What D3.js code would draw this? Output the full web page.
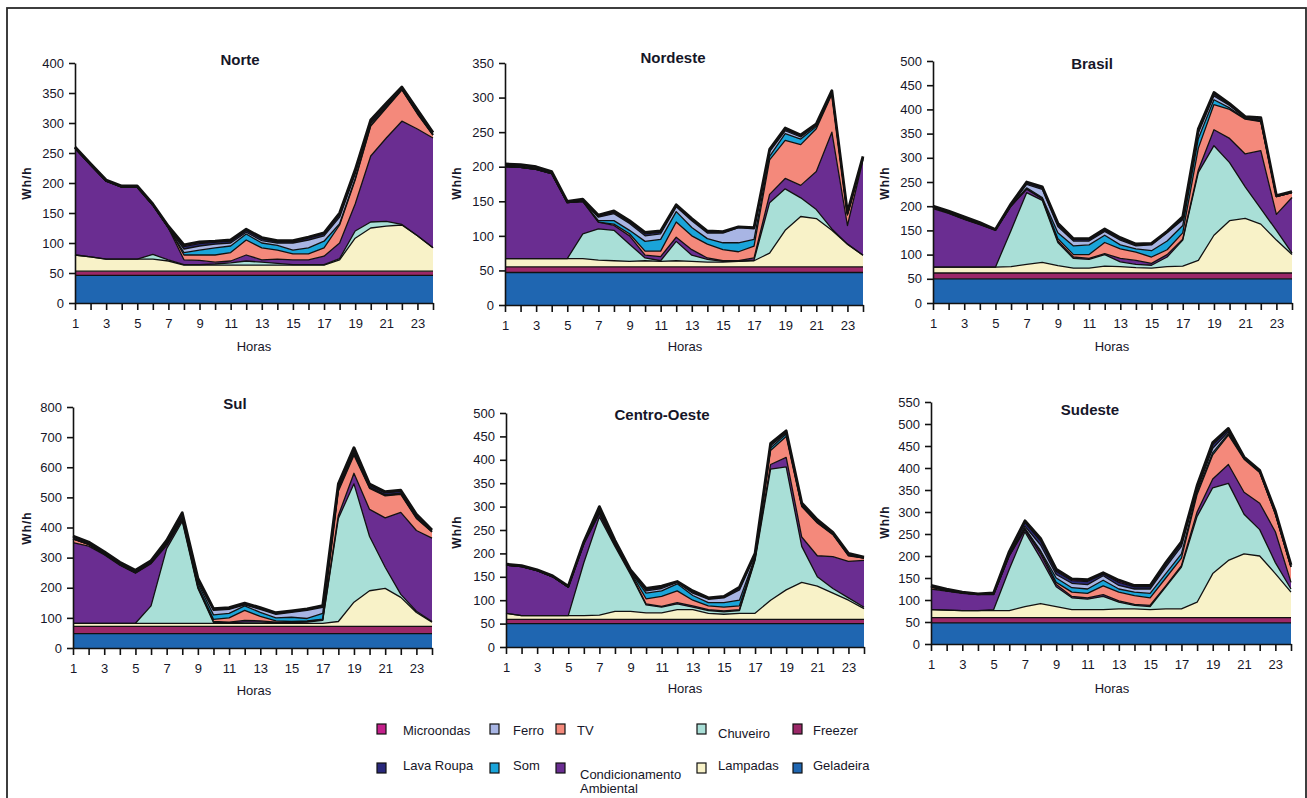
<!DOCTYPE html>
<html>
<head>
<meta charset="utf-8">
<script src="https://cdn.jsdelivr.net/npm/d3@7"></script>
<style>
  body { margin: 0; background: #fff; }
  svg { display: block; font-family: "Liberation Sans", Arial, sans-serif; }
</style>
</head>
<body>
<svg id="chart" width="1307" height="798"></svg>
<script>
// Hourly load curves (Wh/h) per appliance, stacked, for each region of Brazil.
const horas = [1,2,3,4,5,6,7,8,9,10,11,12,13,14,15,16,17,18,19,20,21,22,23,24];

// Stack order, bottom to top
const aparelhos = ["geladeira","freezer","lampadas","chuveiro","condicionamento","tv","som","ferro","lavaRoupa","microondas"];

const norte = {
  geladeira:       [46,46,46,46,46,46,46,46,46,46,46,46,46,46,46,46,46,46,46,46,46,46,46,46],
  freezer:         [7,7,7,7,7,7,7,7,7,7,7,7,7,7,7,7,7,7,7,7,7,7,7,7],
  lampadas:        [27,24,20,20,20,20,17,10,10,10,10,10,10,10,10,10,10,19,55,72,75,77,59,39],
  chuveiro:        [0,0,0,0,0,8,2,1,1,2,4,7,5,3,1,1,1,2,12,10,8,1,0,0],
  condicionamento: [178,153,130,120,120,82,53,8,7,3,3,10,4,7,8,8,14,26,45,110,139,172,178,183],
  tv:              [0,0,0,0,0,0,0,8,9,12,14,25,20,15,10,10,14,30,40,50,50,52,25,5],
  som:             [0,0,0,0,0,0,0,4,8,12,11,10,8,8,6,10,11,2,2,1,1,1,1,0],
  ferro:           [0,0,0,0,0,0,0,6,7,6,5,3,4,4,12,13,9,11,8,3,2,0,1,0],
  lavaRoupa:       [1,1,1,1,1,1,2,4,4,3,3,3,3,2,2,3,3,4,4,3,3,2,3,2],
  microondas:      [1,1,1,1,1,1,1,3,3,2,2,2,2,2,2,2,2,3,3,3,2,2,2,2]
};

const nordeste = {
  geladeira:       [47,47,47,47,47,47,47,47,47,47,47,47,47,47,47,47,47,47,47,47,47,47,47,47],
  freezer:         [8,8,8,8,8,8,8,8,8,8,8,8,8,8,8,8,8,8,8,8,8,8,8,8],
  lampadas:        [12,12,12,12,12,12,10,9,8,9,8,9,8,7,7,8,9,20,53,73,70,53,33,17],
  chuveiro:        [0,0,0,0,0,36,45,44,25,4,1,28,9,4,1,0,1,73,60,27,13,2,0,0],
  condicionamento: [133,132,129,123,81,47,10,7,12,4,6,6,8,2,1,1,3,12,15,18,55,140,27,138],
  tv:              [0,0,0,0,0,0,0,2,3,6,8,22,20,20,16,13,17,50,55,59,62,55,15,2],
  som:             [0,0,0,0,0,0,2,5,5,14,17,15,12,8,10,13,10,5,10,8,3,1,1,1],
  ferro:           [0,0,0,0,0,0,5,10,10,8,8,7,10,8,14,22,15,7,4,3,2,2,1,0],
  lavaRoupa:       [2,2,2,2,1,2,2,2,2,3,2,2,2,2,1,1,1,2,2,2,1,1,1,1],
  microondas:      [2,2,2,1,1,1,1,2,2,2,2,1,1,1,1,0,1,1,2,1,1,1,1,1]
};

const brasil = {
  geladeira:       [50,50,50,50,50,50,50,50,50,50,50,50,50,50,50,50,50,50,50,50,50,50,50,50],
  freezer:         [12,12,12,12,12,12,12,12,12,12,12,12,12,12,12,12,12,12,12,12,12,12,12,12],
  lampadas:        [12,12,12,12,12,13,18,22,15,10,10,14,13,11,10,13,14,26,78,108,113,101,68,38],
  chuveiro:        [0,0,0,0,0,75,148,128,48,20,18,24,10,7,6,20,54,182,185,120,65,32,20,3],
  condicionamento: [121,111,99,88,76,50,7,3,3,3,2,2,7,8,4,5,2,5,33,50,68,120,33,115],
  tv:              [3,1,1,1,1,1,1,1,5,5,8,23,20,17,13,10,13,45,52,60,72,60,37,10],
  som:             [0,0,0,0,0,0,2,2,12,18,20,15,8,7,13,18,15,20,10,3,1,1,0,0],
  ferro:           [0,0,0,0,0,1,7,17,13,10,8,8,10,6,12,17,12,12,8,5,1,2,0,0],
  lavaRoupa:       [1,2,2,2,1,2,3,3,4,3,3,3,3,2,2,2,3,4,4,2,2,3,1,1],
  microondas:      [1,2,2,1,0,1,2,2,3,2,2,2,2,2,1,1,3,4,3,2,1,2,1,1]
};

const sul = {
  geladeira:       [48,48,48,48,48,48,48,48,48,48,48,48,48,48,48,48,48,48,48,48,48,48,48,48],
  freezer:         [24,24,24,24,24,24,24,24,24,24,24,24,24,24,24,24,24,24,24,24,24,24,24,24],
  lampadas:        [10,10,10,10,10,10,10,10,10,10,10,10,10,10,10,10,10,16,80,118,126,96,46,14],
  chuveiro:        [0,0,0,0,0,58,248,338,116,3,2,4,4,2,2,4,10,342,393,180,70,10,4,2],
  condicionamento: [268,256,228,193,166,140,10,5,4,3,2,6,4,2,2,2,2,10,35,90,164,272,268,277],
  tv:              [12,6,2,2,2,2,5,5,4,7,14,33,15,4,2,2,2,80,60,70,73,60,40,20],
  som:             [0,0,0,0,0,0,1,2,9,15,15,15,13,10,14,8,19,5,5,2,2,2,2,1],
  ferro:           [0,0,0,0,0,0,1,2,5,15,13,3,10,12,16,27,20,5,5,2,2,2,2,1],
  lavaRoupa:       [6,5,5,5,5,5,6,9,7,3,3,3,3,3,3,3,3,9,9,6,6,6,6,3],
  microondas:      [4,3,3,3,3,3,4,6,5,3,3,3,3,2,2,2,3,6,6,4,4,4,4,2]
};

const centroOeste = {
  geladeira:       [50,50,50,50,50,50,50,50,50,50,50,50,50,50,50,50,50,50,50,50,50,50,50,50],
  freezer:         [9,9,9,9,9,9,9,9,9,9,9,9,9,9,9,9,9,9,9,9,9,9,9,9],
  lampadas:        [13,8,8,8,8,8,9,17,17,14,14,21,21,13,11,13,13,41,63,79,71,56,41,23],
  chuveiro:        [0,0,0,0,0,113,210,139,79,17,12,12,5,6,5,6,113,280,263,77,20,10,5,3],
  condicionamento: [103,105,96,83,61,40,7,3,3,2,2,3,3,2,2,2,3,10,20,20,45,68,78,100],
  tv:              [0,0,0,0,0,1,2,2,2,11,21,25,12,8,8,8,2,30,45,65,70,47,12,5],
  som:             [0,0,0,0,0,0,1,2,1,12,12,15,10,7,10,12,2,5,5,2,1,1,1,0],
  ferro:           [0,0,0,0,0,1,4,3,2,5,5,3,5,7,10,22,4,5,3,2,1,1,1,0],
  lavaRoupa:       [1,1,1,1,1,2,5,2,1,3,3,1,3,2,2,4,2,3,2,2,3,2,2,1],
  microondas:      [1,1,1,1,1,1,3,1,1,2,2,1,2,1,1,2,2,2,2,2,2,1,1,1]
};

const sudeste = {
  geladeira:       [48,48,48,48,48,48,48,48,48,48,48,48,48,48,48,48,48,48,48,48,48,48,48,48],
  freezer:         [12,12,12,12,12,12,12,12,12,12,12,12,12,12,12,12,12,12,12,12,12,12,12,12],
  lampadas:        [18,17,16,16,16,16,25,32,25,18,18,18,20,20,18,20,20,35,100,130,145,140,100,58],
  chuveiro:        [0,0,0,0,2,94,170,103,45,27,24,30,15,8,7,50,95,195,195,175,90,60,25,7],
  condicionamento: [47,43,39,36,34,30,5,10,5,3,3,4,3,2,3,2,3,10,20,43,50,60,70,15],
  tv:              [5,1,1,1,1,1,2,5,5,10,10,20,20,20,17,18,17,40,55,67,75,70,40,35],
  som:             [0,0,0,0,0,0,1,2,10,10,10,13,7,8,10,10,10,5,5,3,2,1,1,0],
  ferro:           [0,0,0,0,0,1,5,13,8,10,10,10,8,7,10,15,17,5,10,4,1,1,1,1],
  lavaRoupa:       [2,2,1,1,2,5,8,9,7,6,7,4,7,5,5,6,6,6,8,5,1,2,3,2],
  microondas:      [1,2,1,0,1,3,4,6,5,4,4,3,5,3,3,4,4,4,5,3,1,1,2,2]
};

const nomes = {
  microondas: ["Microondas"], ferro: ["Ferro"], tv: ["TV"], chuveiro: ["Chuveiro"], freezer: ["Freezer"],
  lavaRoupa: ["Lava Roupa"], som: ["Som"], condicionamento: ["Condicionamento", "Ambiental"],
  lampadas: ["Lampadas"], geladeira: ["Geladeira"]
};

const cores = {
  geladeira: "#1f66b1", freezer: "#9b2868", lampadas: "#f8f2c8", chuveiro: "#a9dfd7",
  condicionamento: "#6a2d91", tv: "#f4897b", som: "#1aa4d9", ferro: "#a8b5e4",
  lavaRoupa: "#29287c", microondas: "#c4208b"
};

// Panel placement on the page
const paineis = [
  { dados: norte,       titulo: "Norte",        max: 400, passo: 50,  x0: 75,  x1: 433,  y0: 303, yT: 63,  tx: 240,  ty: 65,  ly: 183, lx: 27,  hx: 254,  hy: 351 },
  { dados: nordeste,    titulo: "Nordeste",     max: 350, passo: 50,  x0: 505, x1: 863,  y0: 305, yT: 63,  tx: 673,  ty: 63,  ly: 183, lx: 457, hx: 685,  hy: 351 },
  { dados: brasil,      titulo: "Brasil",       max: 500, passo: 50,  x0: 933, x1: 1292, y0: 303, yT: 61,  tx: 1092, ty: 69,  ly: 183, lx: 885, hx: 1112, hy: 351 },
  { dados: sul,         titulo: "Sul",          max: 800, passo: 100, x0: 73,  x1: 432,  y0: 648, yT: 407, tx: 235,  ty: 409, ly: 528, lx: 27,  hx: 254,  hy: 695 },
  { dados: centroOeste, titulo: "Centro-Oeste", max: 500, passo: 50,  x0: 506, x1: 864,  y0: 647, yT: 413, tx: 662,  ty: 420, ly: 532, lx: 457, hx: 685,  hy: 693 },
  { dados: sudeste,     titulo: "Sudeste",      max: 550, passo: 50,  x0: 931, x1: 1291, y0: 644, yT: 402, tx: 1090, ty: 415, ly: 522, lx: 885, hx: 1112, hy: 693 }
];

const svg = d3.select("#chart");

// outer frame
svg.append("rect")
  .attr("x", 7).attr("y", 8).attr("width", 1299).attr("height", 820)
  .attr("fill", "none").attr("stroke", "#2a2a2a").attr("stroke-width", 1.8);

const textColor = "#161628";

paineis.forEach(p => {
  const g = svg.append("g");
  const x = d3.scaleLinear().domain([1, 24]).range([p.x0, p.x1]);
  const y = d3.scaleLinear().domain([0, p.max]).range([p.y0, p.yT]);

  const linhas = horas.map((h, i) => {
    const o = { hora: h };
    aparelhos.forEach(k => { o[k] = p.dados[k][i]; });
    return o;
  });
  const series = d3.stack().keys(aparelhos)(linhas);

  const area = d3.area()
    .x(d => x(d.data.hora))
    .y0(d => y(d[0]))
    .y1(d => y(d[1]));
  const borda = d3.line()
    .x(d => x(d.data.hora))
    .y(d => y(d[1]));

  g.selectAll("path.camada").data(series).join("path")
    .attr("class", "camada")
    .attr("d", area)
    .attr("fill", s => cores[s.key]);

  g.selectAll("path.borda").data(series).join("path")
    .attr("class", "borda")
    .attr("d", borda)
    .attr("fill", "none")
    .attr("stroke", "#111")
    .attr("stroke-linejoin", "round")
    .attr("stroke-width", (s, i) => i === series.length - 1 ? 2.8 : 1.3);

  // axes
  const yAxis = d3.axisLeft(y)
    .tickValues(d3.range(0, p.max + 1, p.passo))
    .tickSize(6).tickSizeOuter(0).tickPadding(5);
  const gy = g.append("g").attr("transform", `translate(${p.x0},0)`).call(yAxis);

  const xAxis = d3.axisBottom(x)
    .tickValues(horas)
    .tickFormat(h => (h % 2 === 1 ? h : ""))
    .tickSize(7).tickSizeOuter(0).tickPadding(9);
  const gx = g.append("g").attr("transform", `translate(0,${p.y0})`).call(xAxis);

  [gy, gx].forEach(ax => {
    ax.select(".domain").attr("stroke", "#111").attr("stroke-width", 1.6);
    ax.selectAll(".tick line").attr("stroke", "#111").attr("stroke-width", 1.6);
    ax.selectAll(".tick text")
      .attr("fill", textColor)
      .style("font-size", "13px")
      .style("font-family", '"Liberation Sans", Arial, sans-serif');
  });

  g.append("text")
    .attr("x", p.tx).attr("y", p.ty)
    .attr("text-anchor", "middle")
    .attr("fill", textColor)
    .style("font-size", "15px").style("font-weight", "bold")
    .text(p.titulo);

  g.append("text")
    .attr("transform", `translate(${p.lx + 4},${p.ly}) rotate(-90)`)
    .attr("text-anchor", "middle")
    .attr("fill", textColor)
    .style("font-size", "12px").style("font-weight", "bold")
    .style("letter-spacing", "1px")
    .text("Wh/h");

  g.append("text")
    .attr("x", p.hx).attr("y", p.hy)
    .attr("text-anchor", "middle")
    .attr("fill", textColor)
    .style("font-size", "13px")
    .text("Horas");
});

// legend, two rows of five
const legenda = [
  ["microondas", "ferro", "tv", "chuveiro", "freezer"],
  ["lavaRoupa", "som", "condicionamento", "lampadas", "geladeira"]
];
const colX = [377, 490, 556, 697, 793];
const textX = [403, 513, 577, 718, 813];
const rowY = [724, 763];
const baseY = [735, 770];

legenda.forEach((row, r) => {
  row.forEach((k, c) => {
    const lg = svg.append("g");
    lg.append("rect")
      .attr("x", colX[c]).attr("y", rowY[r])
      .attr("width", 9).attr("height", 10)
      .attr("fill", cores[k]).attr("stroke", "#111").attr("stroke-width", 1.2);
    const dois = nomes[k].length > 1;
    const extra = dois ? 9 : (k === "chuveiro" ? 3 : 0);
    const tx = textX[c] + (dois ? 3 : 0);
    const t = lg.append("text")
      .attr("x", tx)
      .attr("y", baseY[r] + extra)
      .attr("fill", textColor)
      .style("font-size", "13px");
    nomes[k].forEach((linha, j) => {
      t.append("tspan")
        .attr("x", tx)
        .attr("dy", j === 0 ? 0 : 14)
        .text(linha);
    });
  });
});
</script>
</body>
</html>
